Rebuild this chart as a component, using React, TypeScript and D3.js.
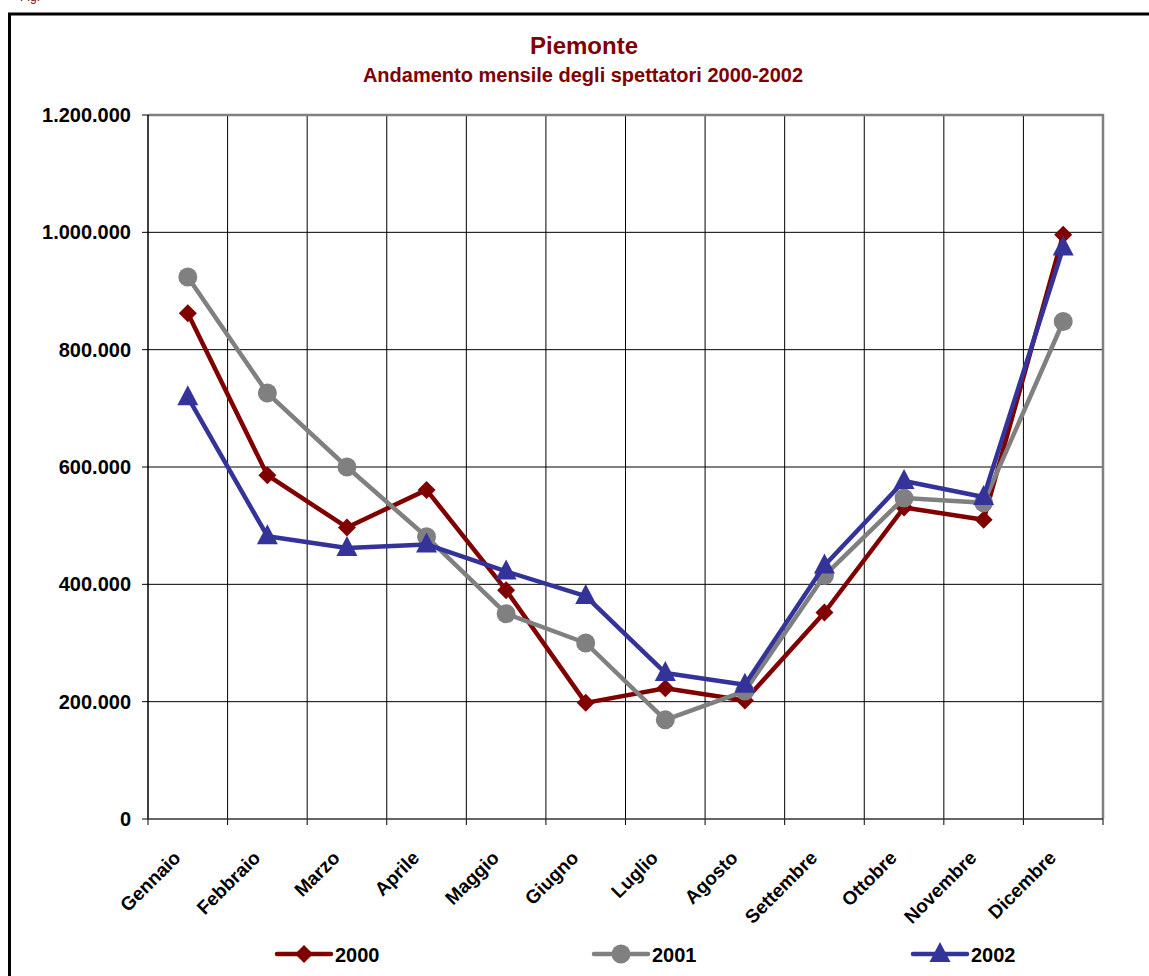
import React from "react";
import * as d3 from "d3";

const months = ["Gennaio","Febbraio","Marzo","Aprile","Maggio","Giugno","Luglio","Agosto","Settembre","Ottobre","Novembre","Dicembre"];
const s2000 = [862000, 586000, 497000, 561000, 390000, 198000, 223000, 202000, 352000, 531000, 510000, 996000];
const s2001 = [924000, 726000, 600000, 481000, 350000, 300000, 169000, 218000, 415000, 547000, 539000, 848000];
const s2002 = [719000, 482000, 462000, 468000, 422000, 380000, 249000, 229000, 432000, 576000, 549000, 974000];
const yTicks = [0, 200000, 400000, 600000, 800000, 1000000, 1200000];
const seriesNames = ["2000", "2001", "2002"];
const seriesColors = ["#800000", "#808080", "#333399"];
const seriesShapes = ["diamond", "circle", "triangle"];

const W = 1149, H = 976;
const L = 148, R = 1103, T = 115, B = 819;

const fmt = (v: number) => v === 0 ? "0" : d3.format(",")(v).replace(/,/g, ".");

function Marker({ shape, x, y, color }: { shape: string; x: number; y: number; color: string }) {
  if (shape === "diamond") {
    const s = 9;
    return <path d={`M${x},${y - s}L${x + s},${y}L${x},${y + s}L${x - s},${y}Z`} fill={color} />;
  }
  if (shape === "circle") return <circle cx={x} cy={y} r={9.5} fill={color} />;
  const w = 10.5, h = 20;
  return <path d={`M${x},${y - h * 0.6}L${x + w},${y + h * 0.4}L${x - w},${y + h * 0.4}Z`} fill={color} />;
}

export default function App() {
  const x = d3.scaleBand<string>().domain(months).range([L, R]);
  const y = d3.scaleLinear().domain([0, 1200000]).range([B, T]);
  const cx = (m: string) => (x(m) as number) + x.bandwidth() / 2;
  const data = [s2000, s2001, s2002];
  const line = d3.line<number>().x((_, i) => cx(months[i])).y((v) => y(v));
  const font = "'Liberation Sans', Arial, sans-serif";
  const legendX = [277, 594, 913];

  return (
    <svg width={W} height={H} style={{ position: "absolute", left: 0, top: 0, background: "#fff" }} fontFamily={font}>
      <rect x={0} y={0} width={W} height={H} fill="#fff" />
      <text x={20} y={1} fontSize={12} fill="#800000">Fig.</text>
      {/* outer frame */}
      <path d={`M${W + 5},${14}L${9.5},${14}L${9.5},${H + 5}`} fill="none" stroke="#000" strokeWidth={3} />
      {/* titles */}
      <text x={584} y={54} textAnchor="middle" fontSize={24} fontWeight="bold" fill="#800000">Piemonte</text>
      <text x={583} y={82} textAnchor="middle" fontSize={20} fontWeight="bold" fill="#800000">Andamento mensile degli spettatori 2000-2002</text>
      {/* horizontal gridlines */}
      {yTicks.map((t) => (
        <g key={t}>
          {t > 0 && t < 1200000 && <line x1={L} x2={R} y1={y(t)} y2={y(t)} stroke="#000" strokeWidth={1} />}
          <line x1={L - 6} x2={L} y1={y(t)} y2={y(t)} stroke="#000" strokeWidth={1} />
          <text x={131} y={y(t) + 7} textAnchor="end" fontSize={20} fontWeight="bold" fill="#000">{fmt(t)}</text>
        </g>
      ))}
      {/* vertical gridlines */}
      {months.map((m, i) => (
        <g key={m}>
          {i > 0 && <line x1={x(m)} x2={x(m)} y1={T} y2={B} stroke="#000" strokeWidth={1} />}
          <line x1={(x(m) as number) + x.bandwidth()} x2={(x(m) as number) + x.bandwidth()} y1={B} y2={B + 6} stroke="#000" strokeWidth={1} />
          <text transform={`translate(${cx(m) - 6},${B + 40}) rotate(-45)`} textAnchor="end" fontSize={19} fontWeight="bold" fill="#000">{m}</text>
        </g>
      ))}
      <line x1={L} x2={L} y1={B} y2={B + 6} stroke="#000" strokeWidth={1} />
      {/* plot frame */}
      <path d={`M${L},${T}L${R},${T}L${R},${B}`} fill="none" stroke="#808080" strokeWidth={2.5} />
      <line x1={L} x2={L} y1={T} y2={B} stroke="#000" strokeWidth={1.5} />
      <line x1={L} x2={R} y1={B} y2={B} stroke="#333" strokeWidth={1.5} />
      {/* series */}
      {data.map((d, si) => (
        <g key={si}>
          <path d={line(d) || ""} fill="none" stroke={seriesColors[si]} strokeWidth={4.5} strokeLinejoin="round" />
          {d.map((v, i) => (
            <Marker key={i} shape={seriesShapes[si]} x={cx(months[i])} y={y(v)} color={seriesColors[si]} />
          ))}
        </g>
      ))}
      {/* legend */}
      {seriesNames.map((n, si) => (
        <g key={n}>
          <line x1={legendX[si]} x2={legendX[si] + 54} y1={954} y2={954} stroke={seriesColors[si]} strokeWidth={4.5} strokeLinecap="round" />
          <Marker shape={seriesShapes[si]} x={legendX[si] + 27} y={954} color={seriesColors[si]} />
          <text x={legendX[si] + 58} y={962} fontSize={20} fontWeight="bold" fill="#000">{n}</text>
        </g>
      ))}
    </svg>
  );
}
